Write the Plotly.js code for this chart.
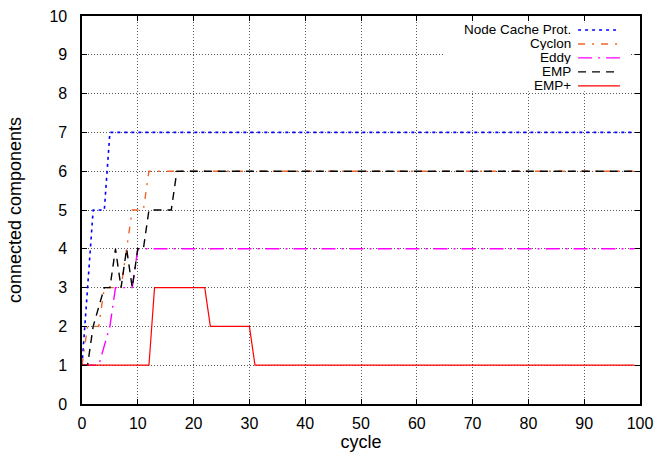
<!DOCTYPE html>
<html>
<head>
<meta charset="utf-8">
<script src="https://cdn.plot.ly/plotly-3.0.1.min.js"></script>
<style>html,body{margin:0;padding:0;background:#fff;}#chart{width:659px;height:458px;}</style>
</head>
<body>
<div id="chart"></div>
<script>
// Series names (legend order)
const seriesNames = ['Node Cache Prot.', 'Cyclon', 'Eddy', 'EMP', 'EMP+'];

// Node Cache Prot.
const nodeCacheX = [0, 1, 2, 4, 5, 99];
const nodeCacheY = [1, 3, 5, 5, 7, 7];
// Cyclon
const cyclonX = [0, 1, 3, 4, 7, 9, 11, 12, 99];
const cyclonY = [1, 2, 2, 3, 3, 5, 5, 6, 6];
// Eddy
const eddyX = [0, 3, 5, 6, 9, 10, 99];
const eddyY = [1, 1, 2, 3, 3, 4, 4];
// EMP
const empX = [0, 1, 2, 4, 5, 6, 7, 8, 9, 10, 11, 12, 16, 17, 99];
const empY = [1, 1, 2, 3, 3, 4, 3, 4, 3, 4, 4, 5, 5, 6, 6];
// EMP+
const empPlusX = [0, 12, 13, 22, 23, 30, 31, 99];
const empPlusY = [1, 1, 3, 3, 2, 2, 1, 1];

// Axis ticks
const xTicks = [0, 10, 20, 30, 40, 50, 60, 70, 80, 90, 100];
const yTicks = [0, 1, 2, 3, 4, 5, 6, 7, 8, 9, 10];

const styles = [
  {color: '#0000ff', dash: '3px,4px', width: 1.6},
  {color: '#f06428', dash: '7px,7px,2px,7px', width: 1.4},
  {color: '#ff00ff', dash: '14px,6px,2px,6px', width: 1.4},
  {color: '#000000', dash: '8px,6px', width: 1.4},
  {color: '#ff0000', dash: 'solid', width: 1.2}
];

const xs = [nodeCacheX, cyclonX, eddyX, empX, empPlusX];
const ys = [nodeCacheY, cyclonY, eddyY, empY, empPlusY];

const traces = seriesNames.map((n, i) => ({
  type: 'scatter', mode: 'lines', name: n,
  x: xs[i], y: ys[i],
  line: {color: styles[i].color, dash: styles[i].dash, width: styles[i].width},
  hoverinfo: 'skip'
}));

// custom gnuplot-style key (text right, sample left->right)
const keyTextX = 0.878, keySampleX0 = 0.889, keySampleX1 = 0.964;
const keyRowY = [0.964, 0.928, 0.892, 0.856, 0.820];
const shapes = [{
  type: 'rect', xref: 'paper', yref: 'paper', x0: 0.647, x1: 0.982, y0: 0.806, y1: 0.984,
  fillcolor: '#ffffff', line: {width: 0}, layer: 'above'
}];
const annotations = [];
seriesNames.forEach((n, i) => {
  annotations.push({
    xref: 'paper', yref: 'paper', x: keyTextX, y: keyRowY[i], xanchor: 'right', yanchor: 'middle',
    text: n, showarrow: false, font: {size: 13.5, color: '#000'}, height: 13, valign: 'middle', borderpad: 0
  });
  shapes.push({
    type: 'line', xref: 'paper', yref: 'paper', x0: keySampleX0, x1: keySampleX1, y0: keyRowY[i], y1: keyRowY[i],
    line: {color: styles[i].color, dash: styles[i].dash, width: styles[i].width}, layer: 'above'
  });
});

const axisCommon = {
  ticks: 'inside', ticklen: 5, tickwidth: 1, tickcolor: '#000',
  showline: true, linecolor: '#000', linewidth: 1.6, mirror: 'ticks',
  showgrid: true, gridcolor: '#5a5a5a', gridwidth: 1, griddash: '1px,2px',
  zeroline: false, automargin: false, fixedrange: true,
  tickfont: {size: 16, color: '#000'}
};

const layout = {
  width: 659, height: 458,
  margin: {l: 82, r: 19, t: 16, b: 54, pad: 0},
  paper_bgcolor: '#fff', plot_bgcolor: '#fff',
  showlegend: false,
  font: {family: '"Liberation Sans", Arial, Helvetica, sans-serif', size: 16, color: '#000'},
  xaxis: Object.assign({}, axisCommon, {
    range: [0, 100], tickvals: xTicks, ticktext: xTicks.map(String), ticklabelstandoff: 4,
    title: {text: 'cycle', font: {size: 18}, standoff: 0}
  }),
  yaxis: Object.assign({}, axisCommon, {
    range: [0, 10], tickvals: yTicks, ticktext: yTicks.map(String), ticklabelstandoff: 10,
    title: {text: 'connected components', font: {size: 18}, standoff: 23}
  }),
  shapes: shapes,
  annotations: annotations
};

Plotly.newPlot('chart', traces, layout, {staticPlot: true, displayModeBar: false});
</script>
</body>
</html>
